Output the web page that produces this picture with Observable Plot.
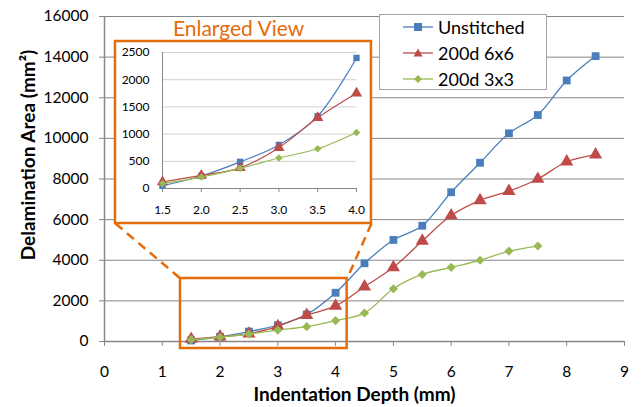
<!DOCTYPE html>
<html>
<head>
<meta charset="utf-8">
<script src="https://cdn.jsdelivr.net/npm/d3@7"></script>
<script src="https://cdn.jsdelivr.net/npm/@observablehq/plot@0.6"></script>
<style>
  html, body { margin: 0; padding: 0; background: white; }
  #wrap { position: relative; width: 643px; height: 407px; font-family: Lato, "Open Sans", sans-serif; }
  #legend { position: absolute; left: 379px; top: 14px; width: 166px; height: 74px; background: white; border: 1px solid #a5a5a5; }
  .lrow { position: absolute; left: 0; height: 24px; display: flex; align-items: center; font-size: 18px; color: #000; }
  .lrow svg { margin-left: 23px; margin-right: 5px; }
</style>
</head>
<body>
<div id="wrap"></div>
<script>
// ---- data ----
const depth = [1.5, 2, 2.5, 3, 3.5, 4, 4.5, 5, 5.5, 6, 6.5, 7, 7.5, 8, 8.5];
const unstitched = [50, 230, 490, 800, 1330, 2400, 3850, 5000, 5700, 7350, 8800, 10250, 11150, 12850, 14050];
const stitched6x6 = [120, 240, 380, 750, 1300, 1750, 2700, 3650, 4950, 6200, 6950, 7400, 8000, 8850, 9200];
const stitched3x3 = [90, 210, 370, 560, 730, 1030, 1400, 2600, 3300, 3650, 4000, 4450, 4700];
const seriesNames = ["Unstitched", "200d 6x6", "200d 3x3"];
const seriesColors = ["#4a7ebb", "#be4b48", "#98b954"];
const seriesSymbols = ["square", "triangle", "diamond2"];
const xTicks = [0, 1, 2, 3, 4, 5, 6, 7, 8, 9];
const yTicks = [0, 2000, 4000, 6000, 8000, 10000, 12000, 14000, 16000];
const insetXTicks = [1.5, 2.0, 2.5, 3.0, 3.5, 4.0];
const insetYTicks = [0, 500, 1000, 1500, 2000, 2500];
const insetMaxDepth = 4;

// annotation geometry (in main-chart data units)
const insetBox = {x1: 0.19, x2: 4.62, y1: 5809, y2: 14769};
const zoomBox = {x1: 1.315, x2: 4.20, y1: -345, y2: 3101};
const connectors = [
  {x1: 0.19, y1: 5809, x2: 1.315, y2: 3101},
  {x1: 4.62, y1: 5809, x2: 4.20, y2: 3101}
];
const insetTitle = {x: 2.32, y: 15360, text: "Enlarged View"};

const ORANGE = "#e46c0a";
const GRID = "#868686";
const FONT = 'Lato, "Open Sans", sans-serif';

const valuesBySeries = [unstitched, stitched6x6, stitched3x3];
const rows = valuesBySeries.flatMap((vals, s) =>
  vals.map((v, i) => ({series: seriesNames[s], x: depth[i], y: v})));
const insetRows = rows.filter(d => d.x <= insetMaxDepth);

const mainR = [4.4, 4.9, 4.1];
const insetR = [3.6, 4.2, 3.4];

function seriesMarks(data, rs, sw) {
  return seriesNames.flatMap((name, s) => {
    const d = data.filter(r => r.series === name);
    return [
      Plot.line(d, {x: "x", y: "y", stroke: seriesColors[s], strokeWidth: sw, curve: "catmull-rom"}),
      Plot.dot(d, {x: "x", y: "y", fill: seriesColors[s], symbol: () => seriesSymbols[s], r: rs[s], stroke: "none"})
    ];
  });
}

const main = Plot.plot({
  width: 643, height: 407,
  marginLeft: 104, marginRight: 19, marginTop: 16, marginBottom: 66,
  style: {fontFamily: FONT, fontSize: "15.5px", background: "white", color: "black", overflow: "visible"},
  x: {domain: [0, 9]},
  y: {domain: [0, 16000]},
  symbol: {domain: seriesSymbols, range: seriesSymbols},
  marks: [
    Plot.ruleY(yTicks.filter(d => d > 0), {stroke: GRID, strokeWidth: 1}),
    Plot.axisY(yTicks, {tickSize: 5, tickPadding: 11, tickFormat: d => String(d), stroke: GRID, label: null}),
    Plot.axisX(xTicks, {tickSize: 5, tickPadding: 19, tickFormat: d => String(d), stroke: GRID, label: null}),
    Plot.ruleX([0], {stroke: GRID, strokeWidth: 1.5}),
    Plot.ruleY([0], {stroke: GRID, strokeWidth: 1.5}),
    Plot.rect([insetBox], {x1: "x1", x2: "x2", y1: "y1", y2: "y2", fill: "white", stroke: ORANGE, strokeWidth: 2.5}),
    Plot.link(connectors, {x1: "x1", y1: "y1", x2: "x2", y2: "y2", stroke: ORANGE, strokeWidth: 2.5, strokeDasharray: "9,6"}),
    ...seriesMarks(rows, mainR, 1.3),
    Plot.rect([zoomBox], {x1: "x1", x2: "x2", y1: "y1", y2: "y2", fill: "none", stroke: ORANGE, strokeWidth: 2.5}),
    Plot.text([insetTitle], {x: "x", y: "y", text: "text", fill: ORANGE, fontSize: 21}),
    Plot.text(["Delamination Area (mm²)"], {frameAnchor: "left", textAnchor: "middle", lineAnchor: "middle", dx: -76, dy: -24, rotate: -90, fontSize: 19, fontWeight: "bold", fill: "black"}),
    Plot.text(["Indentation Depth (mm)"], {frameAnchor: "bottom", textAnchor: "middle", lineAnchor: "middle", dx: -10, dy: 53, fontSize: 19, fontWeight: "bold", fill: "black"})
  ]
});

const inset = Plot.plot({
  width: 252, height: 178,
  marginLeft: 45, marginRight: 13, marginTop: 9, marginBottom: 33,
  style: {fontFamily: FONT, fontSize: "12px", background: "transparent", color: "black", overflow: "visible"},
  x: {domain: [1.5, 4]},
  y: {domain: [0, 2500]},
  symbol: {domain: seriesSymbols, range: seriesSymbols},
  marks: [
    Plot.ruleY(insetYTicks.filter(d => d > 0), {stroke: "#d0d0d0", strokeWidth: 1}),
    Plot.axisY(insetYTicks, {tickSize: 0, tickPadding: 13, tickFormat: d => String(d), label: null}),
    Plot.axisX(insetXTicks, {tickSize: 4, tickPadding: 13, tickFormat: d => d.toFixed(1), stroke: GRID, label: null}),
    Plot.ruleX([1.5], {stroke: GRID}),
    Plot.ruleY([0], {stroke: GRID}),
    ...seriesMarks(insetRows, insetR, 1.2)
  ]
});

const wrap = document.getElementById("wrap");
wrap.appendChild(main);
inset.style.position = "absolute";
inset.style.left = "117px";
inset.style.top = "43px";
wrap.appendChild(inset);

// legend
const legend = document.createElement("div");
legend.id = "legend";
const shapePaths = {
  square: '<rect x="11" y="3" width="8" height="8"/>',
  triangle: '<path d="M15 2.5 L19.5 10.5 L10.5 10.5 Z"/>',
  diamond2: '<path d="M15 3 L19 7 L15 11 L11 7 Z"/>'
};
seriesNames.forEach((name, i) => {
  const row = document.createElement("div");
  row.className = "lrow";
  row.style.top = (-0.3 + i * 26) + "px";
  row.innerHTML = `<svg width="30" height="14"><line x1="0" x2="30" y1="7" y2="7" stroke="${seriesColors[i]}" stroke-width="1.3"/><g fill="${seriesColors[i]}">${shapePaths[seriesSymbols[i]]}</g></svg><span>${name}</span>`;
  legend.appendChild(row);
});
wrap.appendChild(legend);
</script>
</body>
</html>
